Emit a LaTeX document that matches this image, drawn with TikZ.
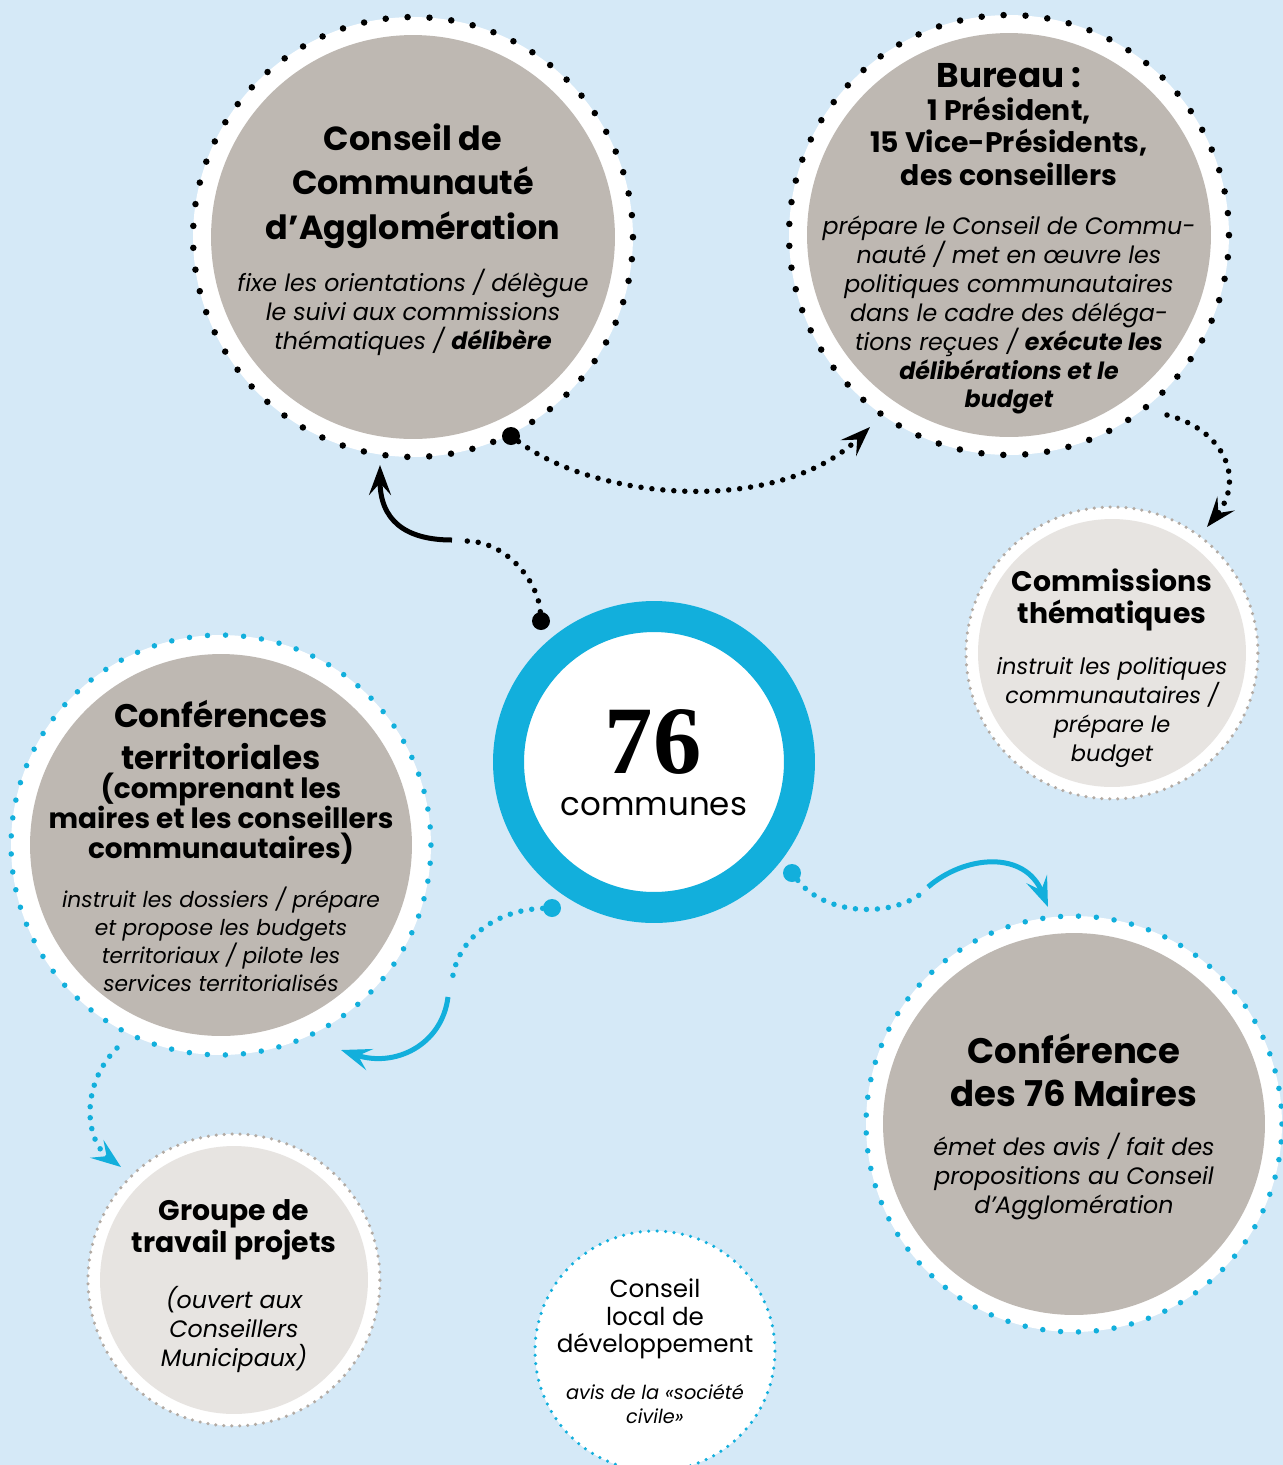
\documentclass[tikz,border=0pt]{standalone}
\usepackage{fontspec}
\setmainfont{Poppins}
\newfontfamily\numfont{Liberation Serif}
\usetikzlibrary{arrows.meta}
\definecolor{bgblue}{RGB}{213,233,247}
\definecolor{ringblue}{RGB}{18,175,220}
\definecolor{diskgray}{RGB}{190,184,178}
\definecolor{lightgray}{RGB}{231,228,225}
\definecolor{dotgray}{RGB}{178,170,163}

\begin{document}
\begin{tikzpicture}
  [x=0.02cm,y=-0.02cm,every node/.style={inner sep=0pt,align=center},
   ringbk/.style={circle,minimum size=8.8cm,fill=white,draw=black,line width=0.13cm,line cap=round,dash pattern=on 0pt off 0.4388cm},
   ringbl/.style={circle,minimum size=8.4cm,fill=white,draw=ringblue,line width=0.11cm,line cap=round,dash pattern=on 0pt off 0.3615cm},
   ringgy/.style={circle,minimum size=5.84cm,fill=white,draw=dotgray,line width=0.07cm,line cap=round,dash pattern=on 0pt off 0.1595cm},
   ringsm/.style={circle,minimum size=4.8cm,fill=white,draw=ringblue,line width=0.07cm,line cap=round,dash pattern=on 0pt off 0.1694cm},
   disk/.style={circle,minimum size=8.08cm,fill=diskgray},
   lightdisk/.style={circle,minimum size=5.36cm,fill=lightgray},
   hub/.style={circle,minimum size=5.82cm,fill=white,draw=ringblue,line width=0.62cm},
   head/.style={font=\bfseries\fontsize{19}{25.3}\selectfont},
   subhead/.style={font=\bfseries\fontsize{16.1}{18.5}\selectfont},
   desc/.style={font=\itshape\fontsize{13.5}{16.5}\selectfont},
   bigdot/.style={circle,minimum size=0.36cm,fill=black},
   dots/.style={line width=0.11cm,line cap=round,dash pattern=on 0pt off 0.22cm},
   tip/.style={-{Stealth[length=0.6cm,width=0.44cm,inset=0.24cm]}},
   solid/.style={line width=0.1cm}]
  \useasboundingbox (0,0) rectangle (1283,1465);
  \clip (0,0) rectangle (1283,1465);
  \fill[bgblue] (0,0) rectangle (1283,1465);

  \node[ringbk] (n1) at (413,237)   {};
  \node[disk] (n1d) at (n1)         {};
  \node[head] (n1h) at (413,186)    {Conseil de\\Communauté\\d’Agglomération};
  \node[desc] (n1t) at (413,312)    {fixe les orientations / délègue\\le suivi aux commissions\\thématiques / \textbf{délibère}};

  \node[ringbk] (n2) at (1009,235)  {};
  \node[disk] (n2d) at (n2)         {};
  \node[head,font=\bfseries\fontsize{19.5}{22}\selectfont] (n2h) at (1009,76) {Bureau :};
  \node[subhead] (n2s) at (1009,141) {1 Président,\\15 Vice-Présidents,\\des conseillers};
  \node[desc] (n2t) at (1009,315)   {prépare le Conseil de Commu-\\nauté / met en œuvre les\\politiques communautaires\\dans le cadre des déléga-\\tions reçues / \textbf{exécute les}\\\textbf{délibérations et le}\\\textbf{budget}};

  \node[ringgy] (n3) at (1112,653)  {};
  \node[lightdisk] (n3d) at (n3)    {};
  \node[subhead] (n3h) at (1112,600) {Commissions\\thématiques};
  \node[desc,font=\itshape\fontsize{12.8}{16.5}\selectfont] (n3t) at (1112,712) {instruit les politiques\\communautaires /\\prépare le\\budget};

  \node[hub] (n0) at (654,762)      {};
  \node[font=\numfont\bfseries\fontsize{55}{55}\selectfont] (n0a) at (653,742) {76};
  \node[font=\fontsize{18.5}{20}\selectfont] (n0b) at (654,807) {communes};

  \node[ringbl] (n4) at (221,845)   {};
  \node[disk,minimum size=7.64cm] (n4d) at (n4) {};
  \node[head,font=\bfseries\fontsize{18.6}{23.9}\selectfont] (n4h) at (221,735) {Conférences\\territoriales};
  \node[subhead,font=\bfseries\fontsize{15.9}{17}\selectfont] (n4s) at (221,819) {(comprenant les\\maires et les conseillers\\communautaires)};
  \node[desc,font=\itshape\fontsize{12.4}{15.9}\selectfont] (n4t) at (221,939) {instruit les dossiers / prépare\\et propose les budgets\\territoriaux / pilote les\\services territorialisés};

  \node[ringbl,minimum size=8.32cm,dash pattern=on 0pt off 0.3581cm] (n5) at (1074,1124) {};
  \node[disk,minimum size=7.64cm] (n5d) at (n5) {};
  \node[head,font=\bfseries\fontsize{20.2}{24.5}\selectfont] (n5h) at (1074,1070) {Conférence\\des 76 Maires};
  \node[desc] (n5t) at (1074,1177)  {émet des avis / fait des\\propositions au Conseil\\d’Agglomération};

  \node[ringgy] (n6) at (234,1280)  {};
  \node[lightdisk] (n6d) at (n6)    {};
  \node[subhead] (n6h) at (234,1230) {Groupe de\\travail projets};
  \node[desc] (n6t) at (234,1329)   {(ouvert aux\\Conseillers\\Municipaux)};

  \node[ringsm] (n7) at (655,1351)  {};
  \node[font=\fontsize{14}{15.6}\selectfont] (n7h) at (655,1319) {Conseil\\local de\\développement};
  \node[desc,font=\itshape\fontsize{11}{13.7}\selectfont] (n7t) at (655,1404) {avis de la «société\\civile»};

  \foreach \n/\x/\y/\c in {d1/541/621/black, d2/511/436/black, d3/792/873/ringblue, d4/552/908/ringblue}
    \node[bigdot,fill=\c] (\n) at (\x,\y) {};

  \coordinate (c1) at (466,541);
  \coordinate (c2) at (452,540);
  \coordinate (c3) at (380,465);
  \coordinate (c4) at (870,427);
  \coordinate (c5) at (1167,415);
  \coordinate (c6) at (1207,527);
  \coordinate (c7) at (922,893);
  \coordinate (c8) at (928,887);
  \coordinate (c9) at (1048,907);
  \coordinate (c10) at (452,983);
  \coordinate (c11) at (448,997);
  \coordinate (c12) at (341,1050);
  \coordinate (c13) at (117,1048);
  \coordinate (c14) at (121,1167);

  \draw[dots] (d1) .. controls (538,580) and (505,541) .. (c1);
  \draw[solid,tip] (c2) .. controls (405,540) and (380,520) .. (c3);
  \draw[dots,tip] (d2) .. controls (600,502) and (780,515) .. (c4);
  \draw[dots,tip] (c5) .. controls (1225,430) and (1245,480) .. (c6);
  \draw[dots,ringblue] (d3) .. controls (825,915) and (890,918) .. (c7);
  \draw[solid,ringblue,tip] (c8) .. controls (965,855) and (1025,850) .. (c9);
  \draw[dots,ringblue] (d4) .. controls (495,910) and (455,940) .. (c10);
  \draw[solid,ringblue,tip] (c11) .. controls (442,1045) and (395,1068) .. (c12);
  \draw[dots,ringblue,tip] (c13) .. controls (80,1085) and (85,1140) .. (c14);
\end{tikzpicture}
\end{document}
